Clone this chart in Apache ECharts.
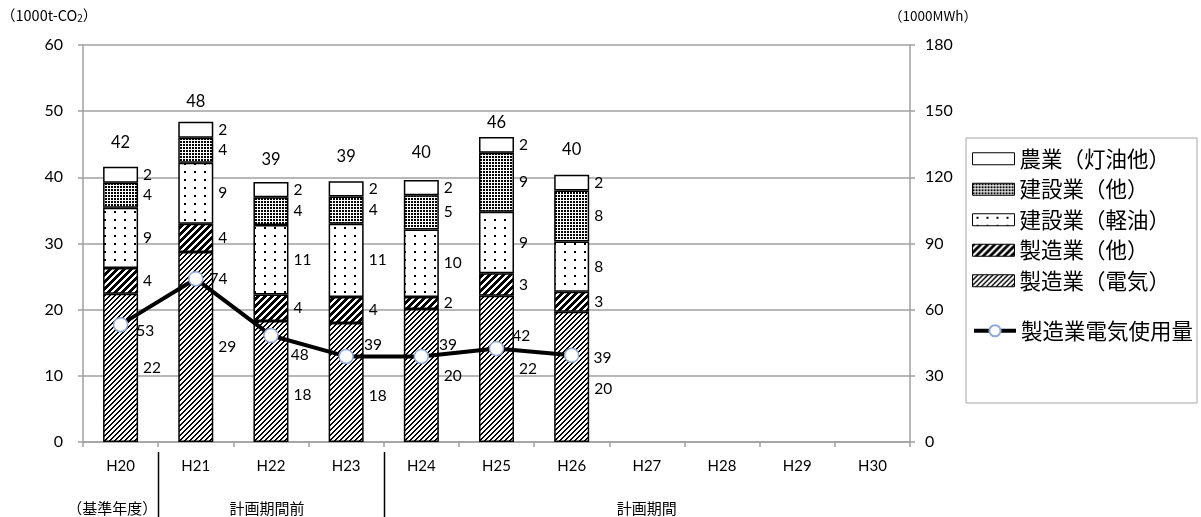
<!DOCTYPE html>
<html><head><meta charset="utf-8">
<script src="https://cdn.jsdelivr.net/npm/echarts@6/dist/echarts.min.js"></script>
<style>html,body{margin:0;padding:0;background:#fff}#c{width:1201px;height:517px}</style>
</head><body><div id="c"></div>
<script>
// ---------- data ----------
const categories = ['H20','H21','H22','H23','H24','H25','H26','H27','H28','H29','H30'];
const mfgElec     = [22.4, 28.7, 18.3, 18.0, 20.1, 22.1, 19.7];   // 製造業(電気)
const mfgOther    = [3.9, 4.3, 4.0, 3.9, 1.8, 3.4, 3.0];          // 製造業(他)
const constDiesel = [9.1, 9.2, 10.5, 11.1, 10.2, 9.3, 7.6];       // 建設業(軽油)
const constOther  = [3.8, 3.8, 4.2, 4.1, 5.2, 8.9, 7.7];          // 建設業(他)
const agriKerosene= [2.4, 2.4, 2.3, 2.3, 2.3, 2.4, 2.4];          // 農業(灯油他)
const elecUse     = [53.2, 74.0, 48.3, 38.8, 38.8, 42.4, 39.3];   // 製造業電気使用量 (1000MWh)
const seriesNames = ['農業（灯油他）','建設業（他）','建設業（軽油）','製造業（他）','製造業（電気）'];
const lineName = '製造業電気使用量';
const leftAxis = {min:0, max:60, interval:10};
const rightAxis = {min:0, max:180, interval:30};
const groups = [
  {text:'（基準年度）', from:0, to:0},
  {text:'計画期間前', from:1, to:3},
  {text:'計画期間', from:4, to:10}
];

// ---------- style ----------
const NUM = 'Lato, "Noto Sans", sans-serif';
const JP = '"Noto Sans CJK JP", "Noto Sans CJK SC", sans-serif';
const GRID_GRAY = '#A0A0A0';
const elecLabelDy = [0, 0, 14, 14, 0, 0, 12];
const totalLabelDy = [-4, 0, -2, -4, -7, 6, -5];
const lineLabelOffsets = [[2,6],[0,0],[6,20],[4,-11],[4,-11],[2,-12],[8,3]];
const groupDx = [0, -4, 0];

function pattern(w, h, draw) {
  const c = document.createElement('canvas');
  c.width = w; c.height = h;
  const ctx = c.getContext('2d');
  ctx.fillStyle = '#fff'; ctx.fillRect(0, 0, w, h);
  ctx.fillStyle = '#000';
  draw(ctx, w, h);
  return {image: c, repeat: 'repeat'};
}
function diag(P, thick) {
  return pattern(P, P, (ctx) => {
    for (let y = 0; y < P; y++) {
      const x0 = P - 1 - y;
      for (let k = 0; k < thick; k++) ctx.fillRect((x0 + k) % P, y, 1, 1);
    }
  });
}
const patElec = diag(5, 2);
const patMfgOther = diag(7, 4);
const patConstDiesel = pattern(10, 8, (ctx) => { ctx.fillRect(4, 3, 2, 2); });
const patConstOther = pattern(3, 3, (ctx) => { ctx.fillRect(0, 0, 2, 2); });
const patAgri = '#ffffff';

const stackData = [mfgElec, mfgOther, constDiesel, constOther, agriKerosene];
const stackNames = [seriesNames[4], seriesNames[3], seriesNames[2], seriesNames[1], seriesNames[0]];
const stackFills = [patElec, patMfgOther, patConstDiesel, patConstOther, patAgri];

const totals = mfgElec.map((_, i) => stackData.reduce((s, arr) => s + arr[i], 0));

const barSeries = stackData.map((arr, si) => ({
  name: stackNames[si],
  type: 'bar',
  stack: 'co2',
  barWidth: 35,
  itemStyle: {color: stackFills[si], borderColor: '#000', borderWidth: 1.5},
  label: {
    show: true, position: 'right', distance: 5,
    fontFamily: NUM, fontSize: 15.5, color: '#000',
    formatter: p => Math.round(p.value)
  },
  emphasis: {disabled: true},
  data: arr.map((v, i) => si === 0 ? {value: v, label: {offset: [0, elecLabelDy[i]]}} : v)
}));

const totalSeries = {
  name: '合計', type: 'bar', barWidth: 35, barGap: '-100%', silent: true, z: 1,
  itemStyle: {color: 'rgba(0,0,0,0)'},
  label: {show: true, position: 'top', distance: 12, fontFamily: NUM, fontSize: 16.5, color: '#000',
          formatter: p => Math.round(p.value)},
  data: totals.map((v, i) => ({value: v, label: {offset: [0, totalLabelDy[i]]}}))
};

const lineSeries = {
  name: lineName, type: 'line', yAxisIndex: 1, z: 5,
  symbol: 'circle', symbolSize: 14,
  lineStyle: {color: '#000', width: 4},
  itemStyle: {color: '#fff', borderColor: '#8EA9DB', borderWidth: 1.5},
  label: {show: true, position: 'right', distance: 6, fontFamily: NUM, fontSize: 15.5, color: '#000',
          formatter: p => Math.round(p.value)},
  emphasis: {disabled: true},
  data: elecUse.map((v, i) => ({value: v, label: {offset: lineLabelOffsets[i]}}))
};

const chart = echarts.init(document.getElementById('c'), null, {renderer: 'canvas'});
const option = {
  animation: false,
  backgroundColor: '#fff',
  grid: {left: 83, right: 291, top: 45, bottom: 75, containLabel: false},
  xAxis: {
    type: 'category', data: categories, boundaryGap: true,
    axisLine: {show: true, lineStyle: {color: GRID_GRAY, width: 1.5}},
    axisTick: {show: true, length: 5, interval: 0, lineStyle: {color: GRID_GRAY, width: 1.5}},
    axisLabel: {margin: 17, fontFamily: NUM, fontSize: 15, color: '#000', interval: 0},
    splitLine: {show: false}
  },
  yAxis: [
    {type: 'value', min: leftAxis.min, max: leftAxis.max, interval: leftAxis.interval,
     axisLine: {show: true, lineStyle: {color: GRID_GRAY, width: 1.5}},
     axisTick: {show: true, length: 5, lineStyle: {color: GRID_GRAY, width: 1.5}},
     axisLabel: {margin: 20, fontFamily: NUM, fontSize: 16, color: '#000'},
     splitLine: {show: true, lineStyle: {color: GRID_GRAY, width: 1.5}}},
    {type: 'value', min: rightAxis.min, max: rightAxis.max, interval: rightAxis.interval,
     axisLine: {show: true, lineStyle: {color: GRID_GRAY, width: 1.5}},
     axisTick: {show: true, length: 5, lineStyle: {color: GRID_GRAY, width: 1.5}},
     axisLabel: {margin: 15, fontFamily: NUM, fontSize: 16, color: '#000'},
     splitLine: {show: false}}
  ],
  legend: [
    {data: seriesNames, orient: 'vertical', left: 967, top: 143, icon: 'rect',
     itemWidth: 42, itemHeight: 12, itemGap: 9, selectedMode: false,
     itemStyle: {borderColor: '#000', borderWidth: 1},
     textStyle: {fontFamily: JP, fontSize: 21.5, lineHeight: 20, color: '#000'}},
    {data: [lineName], orient: 'vertical', left: 967, top: 315,
     itemWidth: 42, itemHeight: 14, selectedMode: false,
     lineStyle: {width: 4, color: '#000'},
     textStyle: {fontFamily: JP, fontSize: 21.5, lineHeight: 20, color: '#000'}}
  ],
  series: [...barSeries, totalSeries, lineSeries]
};
chart.setOption(option);

// ---------- annotations (axis units, legend frame, category groups) ----------
const c0 = chart.convertToPixel({xAxisIndex: 0}, categories[0]);
const c1 = chart.convertToPixel({xAxisIndex: 0}, categories[1]);
const band = c1 - c0;
const graphics = [
  {type: 'text', left: 1, top: 8, style: {
    text: '（1000t-CO{sub|2}）', font: '14.5px ' + JP, fill: '#000',
    rich: {sub: {fontSize: 10, fontFamily: JP, padding: [6, 0, 0, 0]}}}},
  {type: 'text', left: 889, top: 9, style: {text: '（1000MWh）', font: '13.5px ' + JP, fill: '#000'}},
  {type: 'rect', shape: {x: 966, y: 138, width: 231, height: 265}, style: {fill: 'none', stroke: '#A6A6A6', lineWidth: 1}, silent: true}
];
groups.forEach((g, gi) => {
  let cx, align;
  if (gi === 0) { cx = c0 + band * 0.5 - 1; align = 'right'; }
  else { cx = c0 + band * (g.from + g.to) / 2 + groupDx[gi]; align = 'center'; }
  graphics.push({type: 'text', x: cx, y: 508,
    style: {text: g.text, font: '15px ' + JP, fill: '#000', textAlign: align, textVerticalAlign: 'middle'}});
  if (gi > 0) {
    const bx = Math.round(c0 + band * (g.from - 0.5)) + 0.5;
    graphics.push({type: 'line', shape: {x1: bx, y1: 452, x2: bx, y2: 517}, style: {stroke: '#000', lineWidth: 1.5}});
  }
});
chart.setOption({graphic: graphics});
</script>
</body></html>
